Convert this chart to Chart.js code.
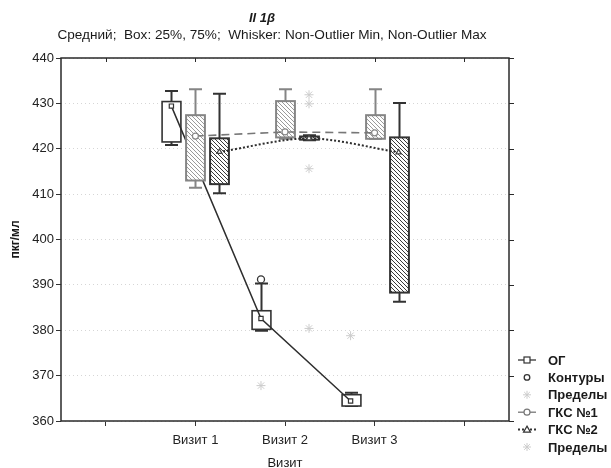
<!DOCTYPE html>
<html>
<head>
<meta charset="utf-8">
<script src="https://cdn.jsdelivr.net/npm/chart.js@4.4.1/dist/chart.umd.min.js"></script>
<style>
  html, body { margin: 0; padding: 0; background: #fff; }
  #wrap { width: 611px; height: 468px; }
</style>
</head>
<body>
<div id="wrap"><canvas id="boxChart" width="611" height="468"></canvas></div>
<script>
// ---- data ----
const xTickLabels = ['', 'Визит 1', 'Визит 2', 'Визит 3', ''];
const visitPos = [1, 2, 3];
const yTickValues = [360, 370, 380, 390, 400, 410, 420, 430, 440];

// ОГ
const ogMean = [429.4, 382.6, 364.4];
const ogQ1   = [421.5, 380.2, 363.3];
const ogQ3   = [430.4, 384.3, 365.8];
const ogMin  = [420.8, 379.9, 363.3];
const ogMax  = [432.7, 390.3, 366.2];
const ogOutliers = [{ visit: 2, value: 391.2 }];
const ogExtremes = [{ visit: 2, value: 367.8 }, { visit: 3, value: 378.8 }];

// ГКС №1
const g1Mean = [422.8, 423.7, 423.5];
const g1Q1   = [413.0, 422.5, 422.2];
const g1Q3   = [427.4, 430.5, 427.4];
const g1Min  = [411.4, 422.2, 422.2];
const g1Max  = [433.1, 433.1, 433.1];

// ГКС №2
const g2Mean = [419.3, 422.3, 419.2];
const g2Q1   = [412.2, 422.0, 388.3];
const g2Q3   = [422.3, 422.7, 422.5];
const g2Min  = [410.2, 421.9, 386.3];
const g2Max  = [432.1, 423.0, 430.1];
const g2Extremes = [
    { visit: 2, value: 431.9 }, { visit: 2, value: 429.9 },
    { visit: 2, value: 415.6 }, { visit: 2, value: 380.4 }
];

// ---- layout / style ----
const FONT = 'Liberation Sans, Arial, sans-serif';
const seriesOffset = [-0.268, 0, 0.268];
const boxWidth = 0.21;
const starColor = '#cccccc';

const canvas = document.getElementById('boxChart');
const ctx = canvas.getContext('2d');

function hatch(color) {
    const c = document.createElement('canvas');
    c.width = 4; c.height = 4;
    const g = c.getContext('2d');
    g.strokeStyle = color;
    g.lineWidth = 1;
    g.beginPath();
    g.moveTo(0, 0); g.lineTo(4, 4);
    g.moveTo(-1, 3); g.lineTo(1, 5);
    g.moveTo(3, -1); g.lineTo(5, 1);
    g.stroke();
    return ctx.createPattern(c, 'repeat');
}

const boxSeries = [
    { q1: ogQ1, q3: ogQ3, min: ogMin, max: ogMax, fill: '#ffffff', stroke: '#333333', whisker: '#333333', width: 1.6 },
    { q1: g1Q1, q3: g1Q3, min: g1Min, max: g1Max, fill: hatch('#9a9a9a'), stroke: '#858585', whisker: '#858585', width: 2 },
    { q1: g2Q1, q3: g2Q3, min: g2Min, max: g2Max, fill: hatch('#3a3a3a'), stroke: '#333333', whisker: '#333333', width: 2 }
];

function pts(values, s) {
    return values.map((v, i) => ({ x: visitPos[i] + seriesOffset[s], y: v }));
}
function ptsList(list, s) {
    return list.map(p => ({ x: p.visit + seriesOffset[s], y: p.value }));
}

/* draw box s just before its mean line, so later series cover earlier lines */
const boxPlugin = {
    id: 'boxes',
    beforeDatasetDraw(chart, args) {
        const s = chart.data.datasets[args.index].boxIndex;
        if (s === undefined) return;
        const b = boxSeries[s];
        const xs = chart.scales.x, ys = chart.scales.y;
        const c = chart.ctx;
        const half = (xs.getPixelForValue(boxWidth) - xs.getPixelForValue(0)) / 2;
        const cap = 6.5;
        c.save();
        visitPos.forEach((v, i) => {
            const cx = Math.round(xs.getPixelForValue(v + seriesOffset[s])) + 0.5;
            const yTop = ys.getPixelForValue(b.q3[i]);
            const yBot = ys.getPixelForValue(b.q1[i]);
            const yMax = ys.getPixelForValue(b.max[i]);
            const yMin = ys.getPixelForValue(b.min[i]);
            // whiskers
            c.strokeStyle = b.whisker;
            c.lineWidth = 2;
            c.beginPath();
            c.moveTo(cx, yTop); c.lineTo(cx, yMax);
            c.moveTo(cx - cap, yMax); c.lineTo(cx + cap, yMax);
            c.moveTo(cx, yBot); c.lineTo(cx, yMin);
            c.moveTo(cx - cap, yMin); c.lineTo(cx + cap, yMin);
            c.stroke();
            // box
            c.fillStyle = '#ffffff';
            c.fillRect(cx - half, yTop, half * 2, yBot - yTop);
            c.fillStyle = b.fill;
            c.fillRect(cx - half, yTop, half * 2, yBot - yTop);
            c.strokeStyle = b.stroke;
            c.lineWidth = b.width;
            c.strokeRect(cx - half, yTop, half * 2, yBot - yTop);
        });
        c.restore();
    }
};

/* frame, top and right ticks, titles, legend */
const decorPlugin = {
    id: 'decor',
    beforeDatasetsDraw(chart) {
        const { ctx: c, chartArea: a, scales } = chart;
        c.save();
        c.strokeStyle = '#2a2a2a';
        c.lineWidth = 1.5;
        c.strokeRect(a.left, a.top, a.right - a.left, a.bottom - a.top);
        c.lineWidth = 1;
        c.beginPath();
        scales.x.ticks.forEach(t => {
            const x = Math.round(scales.x.getPixelForValue(t.value)) + 0.5;
            c.moveTo(x, a.top); c.lineTo(x, a.top + 4);
        });
        scales.y.ticks.forEach(t => {
            const y = Math.round(scales.y.getPixelForValue(t.value)) + 0.5;
            c.moveTo(a.right, y); c.lineTo(a.right + 5, y);
        });
        c.stroke();
        c.restore();
    },
    afterDraw(chart) {
        const { ctx: c, chartArea: a } = chart;
        c.save();
        c.fillStyle = '#1a1a1a';
        c.textAlign = 'center';
        c.textBaseline = 'middle';
        c.font = 'italic bold 13px ' + FONT;
        c.fillText('Il 1\u03b2', 262, 18);
        c.font = '13.6px ' + FONT;
        c.fillText('Средний;  Box: 25%, 75%;  Whisker: Non-Outlier Min, Non-Outlier Max', 272, 35);
        c.font = '13px ' + FONT;
        c.fillText('Визит', (a.left + a.right) / 2, 463);
        c.save();
        c.translate(16, (a.top + a.bottom) / 2);
        c.rotate(-Math.PI / 2);
        c.font = 'bold 12px ' + FONT;
        c.fillText('пкг/мл', 0, 0);
        c.restore();

        // legend
        const rows = ['ОГ', 'Контуры', 'Пределы', 'ГКС №1', 'ГКС №2', 'Пределы'];
        const x0 = 518, x1 = 536, xm = 527, xt = 548;
        rows.forEach((label, i) => {
            const y = 360 + i * 17.4;
            c.font = 'bold 13px ' + FONT;
            c.textAlign = 'left';
            c.fillStyle = '#1a1a1a';
            c.fillText(label, xt, y + 1);
            c.lineWidth = 1.3;
            if (i === 0 || i === 3 || i === 4) {
                c.strokeStyle = i === 3 ? '#777' : '#333';
                c.lineWidth = i === 4 ? 2 : 1.3;
                c.setLineDash(i === 4 ? [2, 2] : []);
                c.beginPath(); c.moveTo(x0, y); c.lineTo(x1, y); c.stroke();
                c.setLineDash([]);
                c.lineWidth = 1.2;
                c.fillStyle = '#fff';
                if (i === 0) { c.fillRect(xm - 3, y - 3, 6, 6); c.strokeRect(xm - 3, y - 3, 6, 6); }
                if (i === 3) { c.beginPath(); c.arc(xm, y, 3, 0, Math.PI * 2); c.fill(); c.stroke(); }
                if (i === 4) {
                    c.beginPath(); c.moveTo(xm, y - 3.5); c.lineTo(xm + 3.5, y + 2.5); c.lineTo(xm - 3.5, y + 2.5);
                    c.closePath(); c.fill(); c.stroke();
                }
            } else if (i === 1) {
                c.strokeStyle = '#333'; c.fillStyle = '#fff'; c.lineWidth = 1.3;
                c.beginPath(); c.arc(xm, y, 2.8, 0, Math.PI * 2); c.fill(); c.stroke();
            } else {
                c.strokeStyle = starColor; c.lineWidth = 1;
                c.beginPath();
                for (let k = 0; k < 4; k++) {
                    const ang = k * Math.PI / 4;
                    c.moveTo(xm - 4 * Math.cos(ang), y - 4 * Math.sin(ang));
                    c.lineTo(xm + 4 * Math.cos(ang), y + 4 * Math.sin(ang));
                }
                c.stroke();
            }
        });
        c.restore();
    }
};

const tickFont = { family: FONT, size: 13 };

new Chart(canvas, {
    type: 'line',
    data: {
        datasets: [
            {
                label: 'ОГ', boxIndex: 0, order: 6,
                data: pts(ogMean, 0),
                borderColor: '#2e2e2e', borderWidth: 1.5,
                pointStyle: 'rect', pointRadius: 3, pointBorderWidth: 1.2,
                pointBackgroundColor: '#fff', pointBorderColor: '#333'
            },
            {
                label: 'ГКС №1', boxIndex: 1, order: 5,
                data: pts(g1Mean, 1),
                borderColor: '#777', borderWidth: 1.6, borderDash: [8, 5],
                pointStyle: 'circle', pointRadius: 3, pointBorderWidth: 1.2,
                pointBackgroundColor: '#fff', pointBorderColor: '#888'
            },
            {
                label: 'ГКС №2', boxIndex: 2, order: 4,
                data: pts(g2Mean, 2),
                borderColor: '#2e2e2e', borderWidth: 2, borderDash: [2, 2], tension: 0.3,
                pointStyle: 'triangle', pointRadius: 3, pointBorderWidth: 1.2,
                pointBackgroundColor: '#fff', pointBorderColor: '#444'
            },
            {
                label: 'Контуры', order: 3, showLine: false,
                data: ptsList(ogOutliers, 0),
                pointStyle: 'circle', pointRadius: 3.5, pointBorderWidth: 1.3,
                pointBackgroundColor: '#fff', pointBorderColor: '#333'
            },
            {
                label: 'Пределы', order: 2, showLine: false,
                data: ptsList(ogExtremes, 0),
                pointStyle: 'star', pointRadius: 4.5, pointBorderWidth: 1,
                pointBackgroundColor: 'rgba(0,0,0,0)', pointBorderColor: starColor
            },
            {
                label: 'Пределы ', order: 1, showLine: false,
                data: ptsList(g2Extremes, 2),
                pointStyle: 'star', pointRadius: 4.5, pointBorderWidth: 1,
                pointBackgroundColor: 'rgba(0,0,0,0)', pointBorderColor: starColor
            }
        ]
    },
    options: {
        responsive: false,
        animation: false,
        layout: { padding: { top: 58, right: 102, left: 0, bottom: 0 } },
        plugins: {
            legend: { display: false },
            tooltip: { enabled: false },
            title: { display: false }
        },
        scales: {
            x: {
                type: 'linear',
                min: -0.5, max: 4.5,
                afterBuildTicks: s => { s.ticks = [0, 1, 2, 3, 4].map(v => ({ value: v })); },
                afterFit: s => { s.height = 47; },
                ticks: {
                    callback: v => xTickLabels[v],
                    color: '#222', font: tickFont, padding: 7,
                    maxRotation: 0, autoSkip: false
                },
                grid: { drawOnChartArea: false, tickLength: 5, tickColor: '#333', tickWidth: 1 },
                border: { display: false }
            },
            y: {
                type: 'linear',
                min: 360, max: 440,
                afterBuildTicks: s => { s.ticks = yTickValues.map(v => ({ value: v })); },
                afterFit: s => { s.width = 61; },
                ticks: { color: '#222', font: tickFont, padding: 2 },
                grid: { color: '#d6d6d6', lineWidth: 1, tickLength: 5, tickColor: '#333', tickWidth: 1 },
                border: { display: false, dash: [1, 3] }
            }
        }
    },
    plugins: [boxPlugin, decorPlugin]
});
</script>
</body>
</html>
